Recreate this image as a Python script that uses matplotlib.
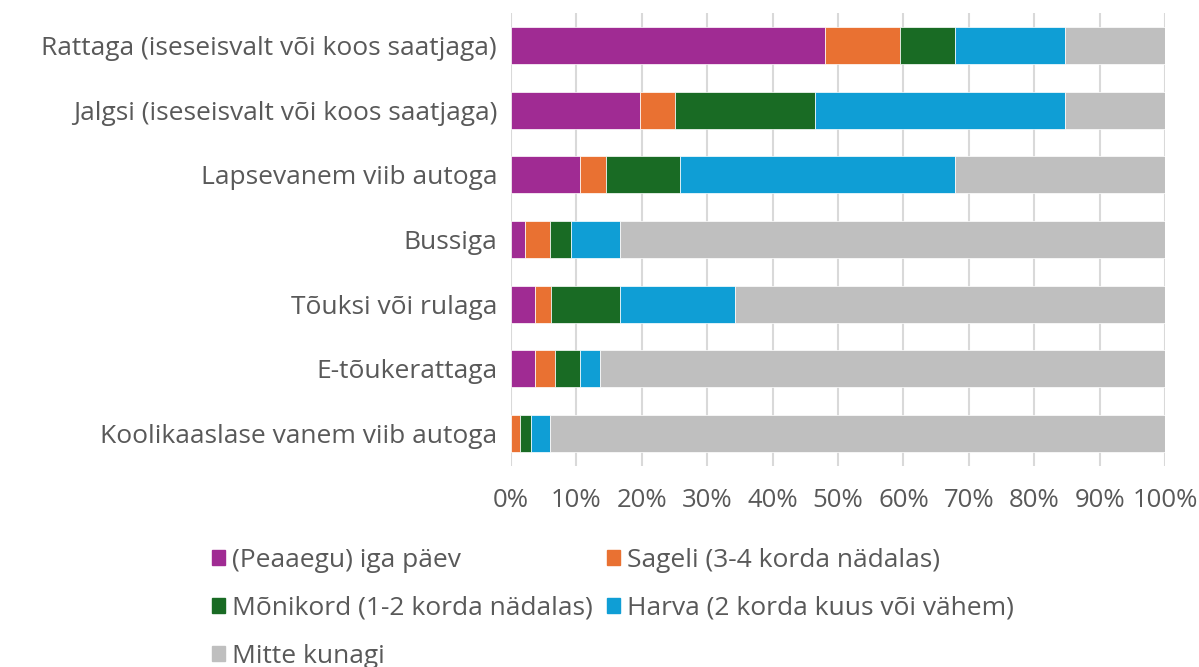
import matplotlib.pyplot as plt
from matplotlib.patches import Patch
import numpy as np

plt.rcParams['font.family'] = ['Open Sans', 'DejaVu Sans']

categories = ["Rattaga (iseseisvalt või koos saatjaga)",
              "Jalgsi (iseseisvalt või koos saatjaga)",
              "Lapsevanem viib autoga",
              "Bussiga",
              "Tõuksi või rulaga",
              "E-tõukerattaga",
              "Koolikaaslase vanem viib autoga"]
series_names = ["(Peaaegu) iga päev",
                "Sageli (3-4 korda nädalas)",
                "Mõnikord (1-2 korda nädalas)",
                "Harva (2 korda kuus või vähem)",
                "Mitte kunagi"]
iga_paev = [48.0, 19.7, 10.6, 2.2, 3.7, 3.7, 0.0]
sageli = [11.5, 5.4, 3.9, 3.8, 2.4, 3.1, 1.4]
monikord = [8.4, 21.4, 11.4, 3.1, 10.6, 3.8, 1.6]
harva = [16.8, 38.2, 42.0, 7.6, 17.6, 3.0, 3.0]
mitte = [15.3, 15.3, 32.1, 83.3, 65.7, 86.4, 94.0]
colors = ["#A02B93", "#E97132", "#196B24", "#0F9ED5", "#BFBFBF"]
ticks = [0, 10, 20, 30, 40, 50, 60, 70, 80, 90, 100]

txt = "#595959"
fs = 19
fig = plt.figure(figsize=(11.99, 6.67), dpi=100)
ax = fig.add_axes([511 / 1199, 1 - 466 / 667, 654 / 1199, 453 / 667])

y = np.arange(len(categories))
left = np.zeros(len(categories))
for vals, c in zip([iga_paev, sageli, monikord, harva, mitte], colors):
    ax.barh(y, vals, left=left, height=0.57, color=c, edgecolor="white", linewidth=0.5, zorder=3)
    left += np.array(vals)

ax.set_ylim(len(categories) - 0.5, -0.5)
ax.set_xlim(0, 100)
ax.set_yticks(y)
ax.set_yticklabels(categories, fontsize=fs, color=txt)
ax.set_xticks(ticks)
ax.set_xticklabels([f"{t}%" for t in ticks], fontsize=fs - 0.5, color=txt)
ax.tick_params(length=0, pad=10)
ax.tick_params(axis="x", pad=16)
ax.grid(axis="x", color="#D9D9D9", linewidth=1.5, zorder=0)
for s in ax.spines.values():
    s.set_visible(False)

handles = [Patch(color=c) for c in colors]
order = [0, 2, 4, 1, 3]
fig.legend([handles[i] for i in order], [series_names[i] for i in order],
           ncol=2, loc="upper left", bbox_to_anchor=(188 / 1199, 1 - 524 / 667),
           frameon=False, fontsize=fs, labelcolor=txt, handlelength=0.5,
           handleheight=0.5, handletextpad=0.25, columnspacing=0.55, labelspacing=0.88)

fig.savefig("out.png", dpi=100)
